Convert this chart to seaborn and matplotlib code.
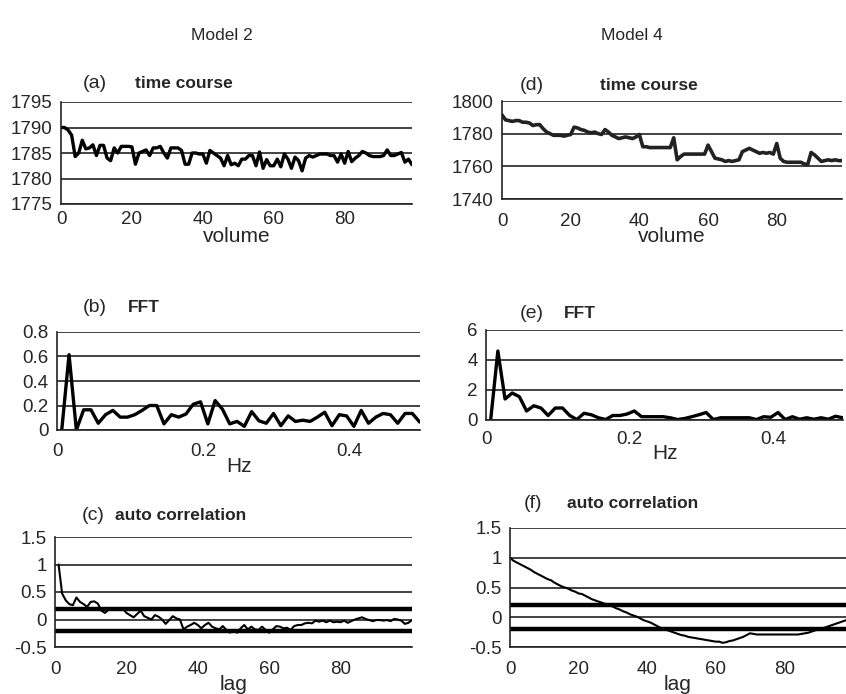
import numpy as np
import pandas as pd
import matplotlib
matplotlib.use("Agg")
import matplotlib.pyplot as plt
import seaborn as sns

sns.set_style("white")
plt.rcParams['font.family'] = ['Liberation Sans', 'DejaVu Sans']
plt.rcParams['axes.unicode_minus'] = False

# ---- data ----
volume = np.arange(100)
freq = np.round(np.arange(50) * 0.01 + 0.0065, 4)
lag_m2 = np.arange(1, 101)
lag_m4 = np.arange(100)

tc_model2 = [1790.0, 1790.0, 1789.5, 1788.5, 1784.3, 1785.0, 1787.5, 1785.8, 1786.0, 1786.6,
             1784.5, 1786.5, 1786.5, 1784.0, 1783.5, 1786.0, 1785.0, 1786.3, 1786.3, 1786.3,
             1786.2, 1782.8, 1785.0, 1785.3, 1785.6, 1784.5, 1786.0, 1786.0, 1786.3, 1785.0,
             1784.0, 1786.0, 1786.0, 1786.0, 1785.5, 1782.8, 1782.8, 1785.0, 1785.0, 1784.8,
             1784.8, 1783.0, 1785.5, 1785.0, 1784.5, 1784.0, 1782.5, 1784.5, 1782.7, 1783.0,
             1782.5, 1783.8, 1783.8, 1784.5, 1784.5, 1782.5, 1785.2, 1782.0, 1783.7, 1782.5,
             1782.5, 1783.8, 1782.3, 1784.8, 1783.8, 1782.0, 1784.2, 1783.5, 1781.5, 1784.0,
             1784.5, 1784.2, 1784.5, 1784.8, 1784.8, 1784.8, 1784.5, 1784.5, 1783.2, 1784.8,
             1783.0, 1785.3, 1783.3, 1784.0, 1784.5, 1785.3, 1785.0, 1784.5, 1784.3, 1784.3,
             1784.3, 1784.5, 1785.6, 1784.5, 1784.5, 1784.8, 1785.1, 1783.2, 1783.8, 1782.7]

tc_model4 = [1791.5, 1788.5, 1788, 1787.5, 1788, 1788, 1787, 1787, 1786.5, 1785,
             1785.5, 1785.5, 1783, 1781, 1780, 1779, 1779, 1779, 1778.5, 1779,
             1779.5, 1784, 1783.5, 1782.5, 1782, 1781, 1780.5, 1781, 1780, 1779.5,
             1782.5, 1781, 1779, 1778, 1777, 1777.5, 1778, 1777.5, 1777, 1778,
             1779.5, 1772, 1772, 1771.5, 1771.5, 1771.5, 1771.5, 1771.5, 1771.5, 1771.5,
             1777.5, 1764, 1766, 1767.5, 1767.5, 1767.5, 1767.5, 1767.5, 1767.5, 1767.5,
             1773, 1769, 1765, 1764.5, 1764, 1763, 1763.5, 1763, 1763.5, 1764,
             1769, 1770, 1771, 1770, 1769, 1768, 1768.5, 1768, 1768.5, 1767.5,
             1774, 1765, 1763, 1762.5, 1762.5, 1762.5, 1762.5, 1762.5, 1761.5, 1761,
             1768.5, 1767, 1765, 1763, 1763.5, 1764, 1763.5, 1764, 1763.5, 1763.5]

fft_model2 = [0, 0.615, 0, 0.165, 0.165, 0.055, 0.125, 0.16, 0.105, 0.105,
              0.125, 0.16, 0.2, 0.2, 0.05, 0.125, 0.105, 0.13, 0.21, 0.23,
              0.05, 0.24, 0.17, 0.05, 0.07, 0.03, 0.15, 0.075, 0.055, 0.135,
              0.035, 0.115, 0.07, 0.08, 0.07, 0.105, 0.145, 0.035, 0.125, 0.115,
              0.03, 0.16, 0.055, 0.105, 0.135, 0.125, 0.055, 0.135, 0.135, 0.065]

fft_model4 = [0, 4.6, 1.4, 1.8, 1.55, 0.6, 0.95, 0.8, 0.3, 0.8,
              0.8, 0.3, 0.03, 0.45, 0.35, 0.15, 0.03, 0.3, 0.3, 0.4,
              0.6, 0.22, 0.22, 0.22, 0.22, 0.15, 0.03, 0.1, 0.22, 0.35,
              0.5, 0.03, 0.15, 0.15, 0.15, 0.15, 0.15, 0.03, 0.22, 0.18,
              0.5, 0.03, 0.22, 0.05, 0.15, 0.05, 0.15, 0.05, 0.25, 0.15]

ac_model2 = [1.0, 0.47, 0.35, 0.28, 0.26, 0.4, 0.32, 0.28, 0.23, 0.32,
             0.33, 0.29, 0.16, 0.12, 0.18, 0.2, 0.2, 0.2, 0.2, 0.12,
             0.08, 0.04, 0.1, 0.16, 0.06, 0.03, 0.0, 0.08, 0.05, 0.0,
             -0.08, -0.01, 0.06, 0.02, 0.0, -0.18, -0.13, -0.1, -0.06, -0.1,
             -0.16, -0.1, -0.06, -0.13, -0.16, -0.18, -0.12, -0.19, -0.24, -0.19,
             -0.24, -0.16, -0.1, -0.18, -0.13, -0.18, -0.19, -0.13, -0.19, -0.24,
             -0.18, -0.12, -0.13, -0.16, -0.15, -0.19, -0.12, -0.1, -0.1, -0.07,
             -0.06, -0.07, -0.02, -0.04, -0.02, -0.05, -0.02, -0.05, -0.04, -0.05,
             -0.02, -0.06, -0.03, 0.0, 0.02, 0.04, 0.01, -0.01, -0.03, -0.01,
             -0.01, -0.02, -0.01, -0.03, 0.01, 0.0, -0.02, -0.08, -0.06, -0.01]

ac_model4 = [1.0, 0.95, 0.92, 0.89, 0.86, 0.83, 0.8, 0.76, 0.73, 0.7,
             0.67, 0.64, 0.62, 0.58, 0.55, 0.52, 0.5, 0.48, 0.45, 0.43,
             0.4, 0.39, 0.36, 0.33, 0.3, 0.28, 0.26, 0.24, 0.22, 0.2,
             0.18, 0.15, 0.13, 0.1, 0.08, 0.05, 0.03, 0.01, -0.02, -0.05,
             -0.07, -0.09, -0.12, -0.15, -0.18, -0.2, -0.22, -0.24, -0.26, -0.28,
             -0.3, -0.31, -0.33, -0.34, -0.35, -0.36, -0.37, -0.38, -0.39, -0.4,
             -0.41, -0.41, -0.43, -0.42, -0.4, -0.39, -0.37, -0.35, -0.33, -0.3,
             -0.27, -0.28, -0.29, -0.29, -0.29, -0.29, -0.29, -0.29, -0.29, -0.29,
             -0.29, -0.29, -0.29, -0.29, -0.29, -0.28, -0.27, -0.26, -0.24, -0.22,
             -0.21, -0.19, -0.17, -0.15, -0.13, -0.11, -0.09, -0.07, -0.05, -0.03]

conf_band = 0.2

W, H = 846, 694
fig = plt.figure(figsize=(W / 100, H / 100), dpi=100)


def box(l, t, r, b):
    return [l / W, 1 - b / H, (r - l) / W, (b - t) / H]


def ftext(x, y, s, **kw):
    fig.text(x / W, 1 - y / H, s, va='center', **kw)


def style(ax, xlim, ylim, yticks, ylabels, xticks, xlabels, xlabel, pad,
          xpad=2, xtick_len=0):
    ax.set_xlim(*xlim)
    ax.set_ylim(*ylim)
    ax.set_yticks(yticks)
    ax.set_yticklabels(ylabels)
    ax.set_xticks(xticks)
    ax.set_xticklabels(xlabels)
    ax.set_xticks([xlim[1]], minor=True)
    ax.set_xlabel(xlabel, fontsize=15, labelpad=pad)
    ax.set_ylabel('')
    ax.yaxis.grid(True, color='#222222', lw=1.2)
    ax.xaxis.grid(False)
    for s in ['top', 'right']:
        ax.spines[s].set_visible(False)
    for s in ['left', 'bottom']:
        ax.spines[s].set_color('#222222')
        ax.spines[s].set_linewidth(1.2)
    ax.tick_params(axis='y', length=5, width=1.2, color='#222222', labelsize=13.5, pad=1)
    ax.tick_params(axis='x', which='major', length=xtick_len, width=1.2, color='#222222',
                   labelsize=13.5, pad=xpad)
    ax.tick_params(axis='x', which='minor', length=5, width=1.2, color='#222222')
    ax.set_axisbelow(True)


# (a) Model 2 time course
ax = fig.add_axes(box(61, 102, 412, 204))
sns.lineplot(x=volume, y=tc_model2, ax=ax, color='black', lw=2.4)
style(ax, (0, 99), (1775, 1795), [1775, 1780, 1785, 1790, 1795],
      ['1775', '1780', '1785', '1790', '1795'], [0, 20, 40, 60, 80],
      ['0', '20', '40', '60', '80'], 'volume', -1, xpad=5)

# (d) Model 4 time course
ax = fig.add_axes(box(502, 101, 842, 199))
sns.lineplot(x=volume, y=tc_model4, ax=ax, color='#222222', lw=2.6)
style(ax, (0, 99), (1740, 1800), [1740, 1760, 1780, 1800],
      ['1740', '1760', '1780', '1800'], [0, 20, 40, 60, 80],
      ['0', '20', '40', '60', '80'], 'volume', -2, xpad=10)

# (b) Model 2 FFT
ax = fig.add_axes(box(57, 332, 420, 430))
sns.lineplot(x=freq, y=fft_model2, ax=ax, color='black', lw=2.4)
style(ax, (0, 0.497), (0, 0.8), [0, 0.2, 0.4, 0.6, 0.8],
      ['0', '0.2', '0.4', '0.6', '0.8'], [0, 0.2, 0.4], ['0', '0.2', '0.4'],
      'Hz', -2, xpad=4, xtick_len=5)

# (e) Model 4 FFT
ax = fig.add_axes(box(486, 330, 843, 420))
sns.lineplot(x=freq, y=fft_model4, ax=ax, color='black', lw=2.4)
style(ax, (0, 0.497), (0, 6), [0, 2, 4, 6], ['0', '2', '4', '6'],
      [0, 0.2, 0.4], ['0', '0.2', '0.4'], 'Hz', -3, xpad=3, xtick_len=5)

# (c) Model 2 auto correlation
ax = fig.add_axes(box(55, 537, 412, 647))
ax.axhline(conf_band, color='black', lw=3.2)
ax.axhline(-conf_band, color='black', lw=3.2)
sns.lineplot(x=lag_m2, y=ac_model2, ax=ax, color='black', lw=1.5)
style(ax, (0, 100), (-0.5, 1.5), [-0.5, 0, 0.5, 1, 1.5],
      ['-0.5', '0', '0.5', '1', '1.5'], [0, 20, 40, 60, 80],
      ['0', '20', '40', '60', '80'], 'lag', -2, xpad=10)

# (f) Model 4 auto correlation
ax = fig.add_axes(box(510, 528, 846, 647))
ax.axhline(conf_band, color='black', lw=3.2)
ax.axhline(-conf_band, color='black', lw=3.2)
sns.lineplot(x=lag_m4, y=ac_model4, ax=ax, color='black', lw=1.5)
style(ax, (0, 98), (-0.5, 1.5), [-0.5, 0, 0.5, 1, 1.5],
      ['-0.5', '0', '0.5', '1', '1.5'], [0, 20, 40, 60, 80],
      ['0', '20', '40', '60', '80'], 'lag', -2, xpad=10)

# headers and panel titles
ftext(222, 36, 'Model 2', fontsize=12.5, ha='center')
ftext(632, 35, 'Model 4', fontsize=12.5, ha='center')

ftext(83, 83, '(a)', fontsize=14)
ftext(135, 83, 'time course', fontsize=12.5, fontweight='bold')
ftext(520, 85, '(d)', fontsize=14)
ftext(600, 85, 'time course', fontsize=12.5, fontweight='bold')
ftext(83, 308, '(b)', fontsize=14)
ftext(128, 308, 'FFT', fontsize=12.5, fontweight='bold')
ftext(520, 313, '(e)', fontsize=14)
ftext(564, 313, 'FFT', fontsize=12.5, fontweight='bold')
ftext(82, 515, '(c)', fontsize=14)
ftext(115, 515, 'auto correlation', fontsize=12.5, fontweight='bold')
ftext(524, 503, '(f)', fontsize=14)
ftext(567, 503, 'auto correlation', fontsize=12.5, fontweight='bold')

fig.savefig('out.png', dpi=100)
